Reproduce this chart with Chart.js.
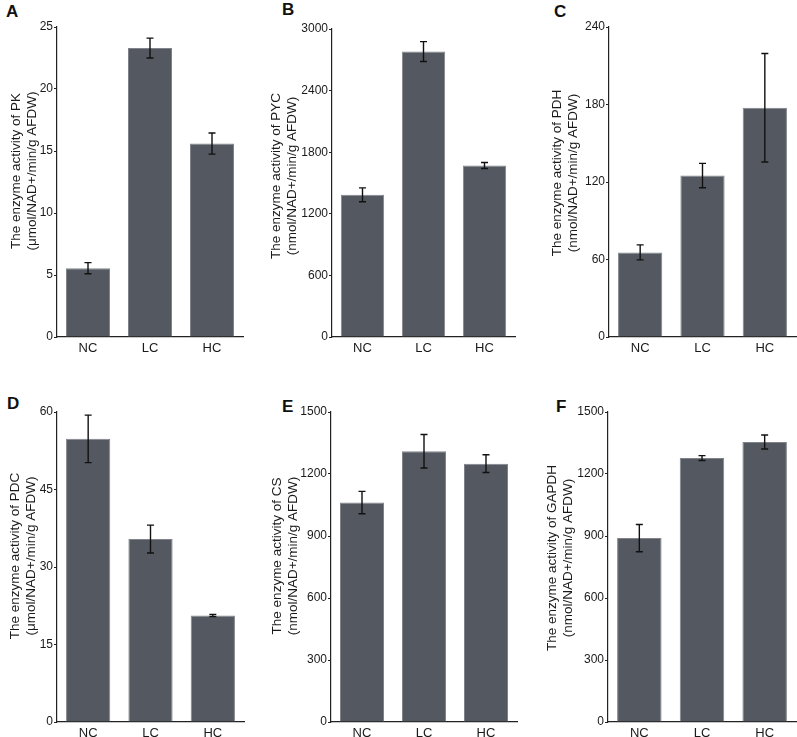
<!DOCTYPE html>
<html>
<head>
<meta charset="utf-8">
<script src="https://cdn.jsdelivr.net/npm/chart.js@4/dist/chart.umd.min.js"></script>
<style>
  html, body { margin: 0; padding: 0; background: #ffffff; }
  body { width: 797px; height: 737px; position: relative; overflow: hidden; font-family: "Liberation Sans", Arial, sans-serif; }
  canvas { position: absolute; }
  .lbl { position: absolute; font-weight: bold; font-size: 17px; color: #111; line-height: 1; }
</style>
</head>
<body>
<div class="lbl" style="left:6px;top:3px;">A</div>
<div class="lbl" style="left:282px;top:1px;">B</div>
<div class="lbl" style="left:554px;top:3px;">C</div>
<div class="lbl" style="left:7px;top:395px;">D</div>
<div class="lbl" style="left:282px;top:398px;">E</div>
<div class="lbl" style="left:556px;top:398px;">F</div>
<canvas id="cA"></canvas>
<canvas id="cB"></canvas>
<canvas id="cC"></canvas>
<canvas id="cD"></canvas>
<canvas id="cE"></canvas>
<canvas id="cF"></canvas>
<script>
// ---- data ----
const categories = ['NC', 'LC', 'HC'];

const pkMeans    = [5.55, 23.3, 15.6];
const pkErr      = [0.45, 0.8, 0.85];
const pycMeans   = [1385, 2780, 1670];
const pycErr     = [68, 97, 29];
const pdhMeans   = [65.5, 125, 177.5];
const pdhErr     = [5.8, 9.4, 42];
const pdcMeans   = [54.8, 35.4, 20.6];
const pdcErr     = [4.6, 2.7, 0.2];
const csMeans    = [1062, 1310, 1250];
const csErr      = [54, 81, 43];
const gapdhMeans = [890, 1277, 1355];
const gapdhErr   = [66, 12, 34];

const yMaxes  = [25, 3000, 240, 60, 1500, 1500];
const ySteps  = [5, 600, 60, 15, 300, 300];

const titleLine1 = [
  'The enzyme activity of PK',
  'The enzyme activity of PYC',
  'The enzyme activity of PDH',
  'The enzyme activity of PDC',
  'The enzyme activity of CS',
  'The enzyme activity of GAPDH'
];
const titleLine2 = [
  '(\u03bcmol/NAD+/min/g AFDW)',
  '(nmol/NAD+/min/g AFDW)',
  '(nmol/NAD+/min/g AFDW)',
  '(\u03bcmol/NAD+/min/g AFDW)',
  '(nmol/NAD+/min/g AFDW)',
  '(nmol/NAD+/min/g AFDW)'
];

const meansList = [pkMeans, pycMeans, pdhMeans, pdcMeans, csMeans, gapdhMeans];
const errList   = [pkErr, pycErr, pdhErr, pdcErr, csErr, gapdhErr];

// ---- layout (page coordinates) ----
const panels = [
  { id: 'cA', cx: 0,   cy: 0,   cw: 265, ch: 368, L: 57,  R: 243, T: 27,  B: 337, t1: 16,  t2: 32,  tc: 171 },
  { id: 'cB', cx: 265, cy: 0,   cw: 265, ch: 368, L: 332, R: 515, T: 29,  B: 337, t1: 276, t2: 292, tc: 176 },
  { id: 'cC', cx: 530, cy: 0,   cw: 267, ch: 368, L: 609, R: 796, T: 27,  B: 337, t1: 557, t2: 573, tc: 173 },
  { id: 'cD', cx: 0,   cy: 368, cw: 265, ch: 369, L: 57,  R: 244, T: 412, B: 722, t1: 15,  t2: 31,  tc: 556 },
  { id: 'cE', cx: 265, cy: 368, cw: 265, ch: 369, L: 331, R: 517, T: 412, B: 722, t1: 277, t2: 293, tc: 556 },
  { id: 'cF', cx: 530, cy: 368, cw: 267, ch: 369, L: 608, R: 796, T: 412, B: 722, t1: 552, t2: 568, tc: 558 }
];

const X_AXIS_H = 22;
const FONT = '"Liberation Sans", Arial, sans-serif';

const errorBarPlugin = {
  id: 'errorBars',
  afterDatasetsDraw(chart, args, opts) {
    const ctx = chart.ctx;
    const meta = chart.getDatasetMeta(0);
    const ys = chart.scales.y;
    const ds = chart.data.datasets[0];
    ctx.save();
    ctx.strokeStyle = '#111';
    ctx.lineWidth = 1.4;
    meta.data.forEach((bar, i) => {
      const v = ds.data[i];
      const e = opts.errors[i];
      const x = bar.x;
      const yTop = ys.getPixelForValue(v + e);
      const yBot = ys.getPixelForValue(v - e);
      ctx.beginPath();
      ctx.moveTo(x, yTop); ctx.lineTo(x, yBot);
      ctx.moveTo(x - 3.5, yTop); ctx.lineTo(x + 3.5, yTop);
      ctx.moveTo(x - 3.5, yBot); ctx.lineTo(x + 3.5, yBot);
      ctx.stroke();
    });
    ctx.restore();
  }
};

const yTitlePlugin = {
  id: 'yTitle',
  afterDraw(chart, args, opts) {
    const ctx = chart.ctx;
    ctx.save();
    ctx.fillStyle = '#1a1a1a';
    ctx.font = '13.5px ' + FONT;
    ctx.textAlign = 'center';
    ctx.textBaseline = 'middle';
    [[opts.line1, opts.x1], [opts.line2, opts.x2]].forEach(([txt, x]) => {
      ctx.save();
      ctx.translate(x, opts.yc);
      ctx.rotate(-Math.PI / 2);
      ctx.fillText(txt, 0, 0);
      ctx.restore();
    });
    ctx.restore();
  }
};

panels.forEach((p, k) => {
  const cv = document.getElementById(p.id);
  cv.width = p.cw; cv.height = p.ch;
  cv.style.left = p.cx + 'px'; cv.style.top = p.cy + 'px';
  cv.style.width = p.cw + 'px'; cv.style.height = p.ch + 'px';
  const yAxisW = p.L - p.cx;
  new Chart(cv, {
    type: 'bar',
    data: {
      labels: categories,
      datasets: [{
        data: meansList[k],
        backgroundColor: '#545961',
        borderColor: '#80848a',
        borderWidth: 1,
        barPercentage: 0.71,
        categoryPercentage: 1.0
      }]
    },
    plugins: [errorBarPlugin, yTitlePlugin],
    options: {
      responsive: false,
      animation: false,
      devicePixelRatio: 1,
      layout: {
        padding: {
          left: 0,
          right: p.cx + p.cw - p.R,
          top: p.T - p.cy,
          bottom: p.cy + p.ch - p.B - X_AXIS_H
        }
      },
      plugins: {
        legend: { display: false },
        tooltip: { enabled: false },
        title: { display: false },
        errorBars: { errors: errList[k] },
        yTitle: { line1: titleLine1[k], line2: titleLine2[k], x1: p.t1 - p.cx, x2: p.t2 - p.cx, yc: p.tc - p.cy }
      },
      scales: {
        x: {
          grid: { display: false, drawTicks: false },
          border: { display: true, color: '#222', width: 1.2 },
          ticks: { color: '#1a1a1a', padding: 4, font: { family: FONT, size: 13 } },
          afterFit(scale) { scale.height = X_AXIS_H; }
        },
        y: {
          min: 0,
          max: yMaxes[k],
          grid: { display: true, drawOnChartArea: false, drawTicks: true, tickLength: 3, color: '#222' },
          border: { display: true, color: '#222', width: 1.2 },
          ticks: {
            stepSize: ySteps[k],
            color: '#1a1a1a',
            padding: 1,
            font: { family: FONT, size: 12 },
            callback: (v) => String(v)
          },
          afterFit(scale) { scale.width = yAxisW; }
        }
      }
    }
  });
});
</script>
</body>
</html>
